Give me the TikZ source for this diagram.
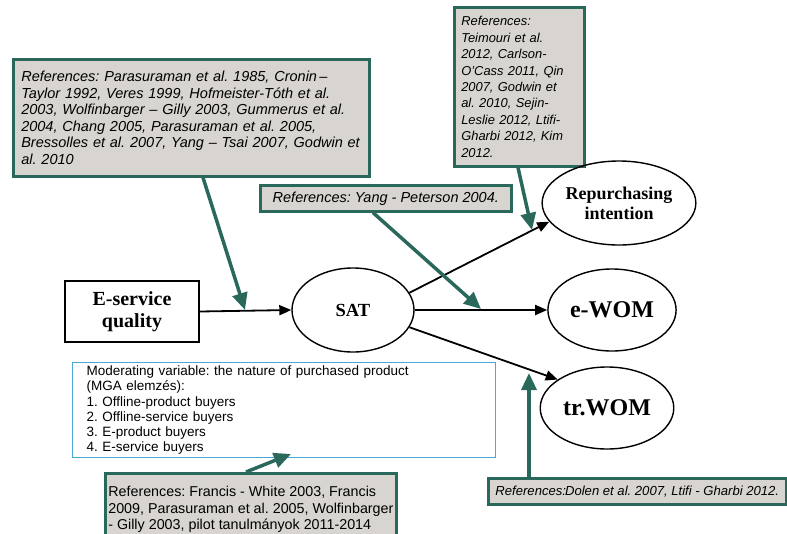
\documentclass[tikz,border=0pt]{standalone}
\usepackage{fontspec}
\setmainfont{Liberation Serif}
\newfontfamily\arial[Ligatures=TeX]{Liberation Sans}
\usetikzlibrary{arrows.meta,shapes.geometric,calc}
\definecolor{refgray}{RGB}{216,213,208}
\definecolor{refteal}{RGB}{42,104,92}
\definecolor{modcyan}{RGB}{70,170,210}
\frenchspacing
\begin{document}
\begin{tikzpicture}[x=1pt,y=-1pt,
  refbox/.style={draw=refteal, line width=2.6pt, fill=refgray, anchor=north west,
    align=left, inner ysep=4pt, font=\arial\itshape\fontsize{14.5}{16.6}\selectfont\frenchspacing},
  reftext/.style={draw=refteal, line width=2.6pt, fill=refgray, anchor=north west,
    align=left, inner ysep=4pt, font=\arial\fontsize{14.3}{16.6}\selectfont\frenchspacing},
  modbox/.style={draw=modcyan, line width=1.3pt, fill=white, anchor=north west,
    align=left, font=\arial\fontsize{13.5}{15.2}\selectfont\frenchspacing},
  var/.style={ellipse, draw, line width=1.4pt, align=center, font=\bfseries},
  qbox/.style={draw, line width=1.8pt, align=center, font=\bfseries\fontsize{20}{22}\selectfont},
  blk/.style={line width=1.8pt, -{Triangle[width=10pt,length=12pt]}},
  tealarr/.style={draw=refteal, line width=3.5pt, -{Triangle[width=15pt,length=17pt]}, refteal}
]
\useasboundingbox (0,0) rectangle (787,533);
\clip (0,0) rectangle (787,533);

% reference boxes
\node[refbox, text width=340pt, inner xsep=8pt, minimum height=117pt] (r1) at (12,58)
 {References: Parasuraman et al. 1985, Cronin\,–\\
  Taylor 1992, Veres 1999, Hofmeister-Tóth et al.\\
  2003, Wolfinbarger – Gilly 2003, Gummerus et al.\\
  2004, Chang 2005, Parasuraman et al. 2005,\\
  Bressolles et al. 2007, Yang – Tsai 2007, Godwin et\\
  al. 2010};
\node[refbox, text width=116pt, inner xsep=7pt, minimum height=159pt,
  font=\arial\itshape\fontsize{12.9}{16.4}\selectfont] (r2) at (453,6)
 {References:\\ Teimouri et al.\\ 2012, Carlson-\\ O'Cass 2011, Qin\\ 2007, Godwin et\\
  al. 2010, Sejin-\\ Leslie 2012, Ltifi-\\ Gharbi 2012, Kim\\ 2012.};
\node[refbox, align=center, minimum width=251pt, minimum height=26pt, inner ysep=2pt] (r3) at (259,184)
 {References: Yang - Peterson 2004.};
\node[refbox, align=center, minimum width=298pt, minimum height=26pt, inner ysep=2pt,
  font=\arial\itshape\fontsize{13.1}{14}\selectfont] (r4) at (487,477)
 {References:\hspace{-1pt}Dolen et al. 2007, Ltifi - Gharbi 2012.};
\node[reftext, minimum width=288pt, inner xsep=3pt, inner ysep=13pt, text depth=40pt] (r5) at (104,472)
 {References: Francis - White 2003, Francis\\
  2009, Parasuraman et al. 2005, Wolfinbarger\\
  - Gilly 2003, pilot tanulmányok 2011-2014};

% moderating box
\node[modbox, text width=395pt, inner xsep=14pt, inner ysep=3pt, minimum height=95pt] (mod) at (72,362)
 {Moderating variable: the nature of purchased product\\
  (MGA elemzés):\\
  1. Offline-product buyers\\
  2. Offline-service buyers\\
  3. E-product buyers\\
  4. E-service buyers};

% model
\node[qbox, minimum width=134pt, minimum height=61pt] (eq) at (132,311.5) {E-service\\quality};
\node[var, minimum width=122pt, minimum height=84pt, font=\bfseries\fontsize{18.5}{20}\selectfont] (sat) at (353,310) {SAT};
\node[var, minimum width=121pt, minimum height=84pt, font=\bfseries\fontsize{18}{20}\selectfont, inner sep=1pt] (rep) at (619,203) {Repurchasing\\intention};
\node[var, minimum width=122pt, minimum height=82pt, font=\bfseries\fontsize{24}{26}\selectfont] (ewom) at (612,310) {e-WOM};
\node[var, minimum width=122pt, minimum height=82pt, font=\bfseries\fontsize{24}{26}\selectfont] (trwom) at (607,408) {tr.WOM};

\draw[blk] (eq.east) -- (sat.west);
\draw[blk] (sat.17) -- (rep.195);
\draw[blk] (sat.east) -- (ewom.west);
\draw[blk] (sat.-17) -- (trwom.150);

% teal arrows
\coordinate (t1) at (245,310);
\coordinate (t2) at (481,309);
\coordinate (t3) at (532,230);
\coordinate (t4) at (529,373);
\coordinate (t5) at (291,454);
\draw[tealarr] (r1.south -| 203,0) -- (t1);
\draw[tealarr] (r3.south -| 373,0) -- (t2);
\draw[tealarr] (r2.south -| 518,0) -- (t3);
\draw[tealarr] (r4.north -| 529,0) -- (t4);
\draw[tealarr] (r5.north -| 246,0) -- (t5);
\end{tikzpicture}
\end{document}
